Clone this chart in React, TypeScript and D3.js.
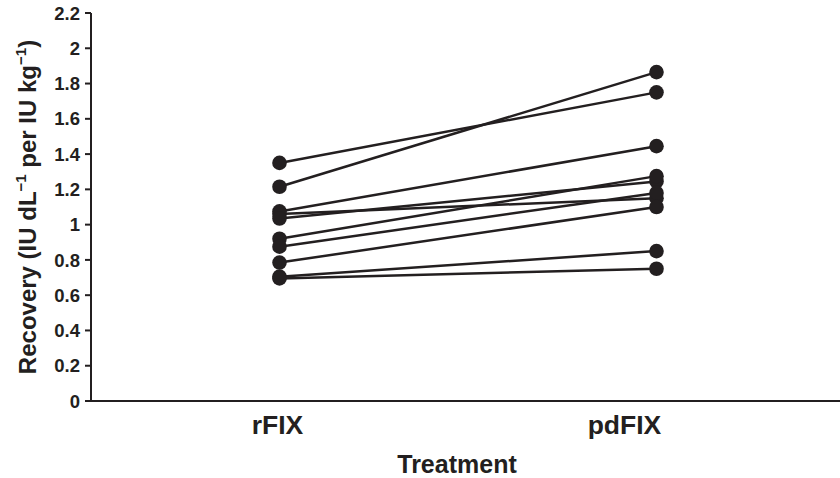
import React from "react";
import * as d3 from "d3";

const categories = ["rFIX", "pdFIX"];
const rFIX = [1.35, 1.215, 1.075, 1.06, 1.035, 0.92, 0.875, 0.785, 0.705, 0.695];
const pdFIX = [1.75, 1.865, 1.445, 1.15, 1.245, 1.275, 1.18, 1.1, 0.85, 0.75];
const yTicks = [0, 0.2, 0.4, 0.6, 0.8, 1, 1.2, 1.4, 1.6, 1.8, 2, 2.2];

const W = 840;
const H = 478;
const ink = "#231f20";
const font = "'Liberation Sans', Arial, Helvetica, sans-serif";

export default function App() {
  const left = 91;
  const right = 845;
  const top = 13;
  const bottom = 401;

  const x = d3.scalePoint<string>().domain(categories).range([left, right]).padding(0.5);
  const y = d3.scaleLinear().domain([0, 2.2]).range([bottom, top]);

  const pairs = rFIX.map((v, i) => [v, pdFIX[i]] as [number, number]);
  const line = d3
    .line<[string, number]>()
    .x((d) => x(d[0]) as number)
    .y((d) => y(d[1]));

  return (
    <svg
      width={W}
      height={H}
      style={{ position: "absolute", left: 0, top: 0, background: "#fff" }}
      fontFamily={font}
    >
      <rect width={W} height={H} fill="#fff" />
      {/* axes */}
      <line x1={left} x2={left} y1={top} y2={bottom} stroke={ink} strokeWidth={2} />
      <line x1={left - 5} x2={W} y1={bottom} y2={bottom} stroke={ink} strokeWidth={2} />
      {yTicks.map((t) => (
        <g key={t}>
          <line x1={left - 6} x2={left} y1={y(t)} y2={y(t)} stroke={ink} strokeWidth={2} />
          <text
            x={left - 11}
            y={y(t)}
            dy="0.36em"
            textAnchor="end"
            fontSize={18.5}
            fontWeight="bold"
            fill={ink}
          >
            {d3.format("~g")(t)}
          </text>
        </g>
      ))}
      {categories.map((c, i) => (
        <text
          key={c}
          x={(x(c) as number) + (i === 1 ? -32 : -2)}
          y={434}
          textAnchor="middle"
          fontSize={26.5}
          fontWeight="bold"
          fill={ink}
        >
          {c}
        </text>
      ))}
      <text x={457} y={473} textAnchor="middle" fontSize={25} fontWeight="bold" fill={ink}>
        Treatment
      </text>
      <text
        transform={`translate(36, ${(top + bottom) / 2}) rotate(-90)`}
        textAnchor="middle"
        fontSize={24}
        fontWeight="bold"
        fill={ink}
      >
        Recovery (IU dL
        <tspan fontSize={15} dy={-10}>−1</tspan>
        <tspan dy={10}> per IU kg</tspan>
        <tspan fontSize={15} dy={-10}>−1</tspan>
        <tspan dy={10}>)</tspan>
      </text>
      {/* paired lines */}
      {pairs.map((p, i) => (
        <path
          key={i}
          d={line([
            [categories[0], p[0]],
            [categories[1], p[1]],
          ]) as string}
          fill="none"
          stroke={ink}
          strokeWidth={2.5}
        />
      ))}
      {pairs.map((p, i) => (
        <g key={"p" + i}>
          <circle cx={x(categories[0]) as number} cy={y(p[0])} r={7.3} fill={ink} />
          <circle cx={x(categories[1]) as number} cy={y(p[1])} r={7.3} fill={ink} />
        </g>
      ))}
    </svg>
  );
}
